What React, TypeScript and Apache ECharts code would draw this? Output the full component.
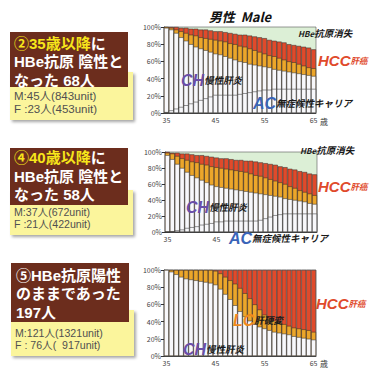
import React, { useEffect, useRef } from "react";
import * as echarts from "echarts";

// ages on the x axis (years)
const ages = [
  "35", "36", "37", "38", "39", "40", "41", "42", "43", "44",
  "45", "46", "47", "48", "49", "50", "51", "52", "53", "54",
  "55", "56", "57", "58", "59", "60", "61", "62", "63", "64", "65",
];
const shownAges = ["35", "45", "55", "65"];
const shownAgesChart2 = ["35", "45"]; // others hidden under the AC label in the reference

// Chart 1 (②): cumulative tops of each layer, %
const ac1 = [1, 3, 5, 7, 9, 11, 13, 15, 17, 19, 21, 21, 21, 21, 21, 22, 23, 24, 25, 26, 27, 27, 28, 28, 28, 28, 28, 28, 28, 28, 28];
const ch1 = [99, 97, 93, 88, 84, 80, 77, 75, 73, 71, 69, 68, 66, 64, 62, 60, 59, 57, 56, 55, 54, 53, 51, 50, 49, 48, 47, 46, 45, 44, 43];
const lc1 = [100, 99, 97, 95, 93, 91, 90, 88, 87, 86, 85, 84, 83, 81, 80, 78, 77, 75, 73, 71, 69, 67, 66, 64, 62, 60, 59, 57, 55, 53, 52];
const hcc1 = [100, 100, 100, 99, 99, 98, 98, 97, 97, 96, 95, 95, 94, 93, 92, 91, 91, 90, 89, 88, 87, 85, 84, 83, 82, 80, 79, 78, 77, 76, 74];

// Chart 2 (④)
const ac2 = [0, 1, 2, 3, 5, 6, 7, 9, 10, 11, 13, 13, 14, 14, 14, 14, 14, 14, 14, 15, 17, 19, 21, 22, 23, 23, 23, 23, 23, 23, 23];
const ch2 = [96, 91, 85, 80, 75, 71, 68, 65, 62, 59, 57, 56, 55, 54, 53, 52, 51, 50, 49, 48, 47, 46, 45, 44, 42, 41, 40, 39, 38, 36, 35];
const lc2 = [99, 98, 95, 92, 90, 88, 87, 85, 84, 82, 81, 80, 79, 78, 77, 76, 75, 73, 71, 70, 68, 66, 64, 62, 60, 57, 55, 52, 50, 48, 46];
const hcc2 = [100, 99, 99, 98, 98, 97, 96, 96, 95, 94, 93, 92, 92, 91, 90, 90, 89, 89, 88, 87, 86, 85, 84, 82, 81, 79, 78, 76, 75, 73, 72];

// Chart 3 (⑤)
const ch3 = [100, 98, 95, 92, 90, 89, 88, 87, 86, 85, 83, 78, 72, 66, 59, 52, 46, 41, 37, 34, 32, 30, 28, 27, 26, 25, 23, 22, 21, 20, 19];
const lc3 = [100, 100, 100, 100, 100, 100, 100, 100, 100, 100, 99, 96, 92, 88, 84, 79, 73, 67, 60, 54, 48, 44, 41, 39, 37, 35, 33, 32, 31, 30, 28];
const hcc3 = [100, 100, 100, 100, 100, 100, 100, 100, 100, 100, 100, 100, 100, 100, 100, 100, 100, 100, 100, 100, 100, 100, 100, 100, 100, 100, 100, 100, 100, 100, 100];

const FONT = "'Noto Sans CJK JP', 'Noto Sans', sans-serif";
const TIGHT = "'Liberation Sans', 'Noto Sans CJK JP', sans-serif";
const RED = "#e04a2b";
const ORANGE = "#eca62a";
const WHITE = "#f8f8fb";
const GREEN = "#dcefd6";
const BROWN = "#6c2d1d";
const YELLOW = "#fbf59c";

function App() {
  const ref = useRef<HTMLDivElement>(null);
  useEffect(() => {
    if (!ref.current) return;
    const chart = echarts.init(ref.current, undefined, { renderer: "svg" });

    const grids = [
      { left: 164, top: 27, width: 152, height: 86, bg: GREEN, shown: shownAges },
      { left: 165, top: 152, width: 152, height: 80, bg: GREEN, shown: shownAgesChart2 },
      { left: 164, top: 270, width: 152, height: 86, bg: "#ffffff", shown: shownAges },
    ];

    const bar = (g: number, data: number[], color: string) => ({
      type: "bar",
      xAxisIndex: g,
      yAxisIndex: g,
      data,
      barGap: "-100%",
      barCategoryGap: "0%",
      silent: true,
      itemStyle: { color, borderColor: "#2a2a2a", borderWidth: 0.5 },
    });

    const txt = (x: number, y: number, text: string, rich: any, extra: any = {}) => ({
      type: "text",
      x,
      y,
      z: 100,
      style: {
        text,
        rich,
        fontFamily: FONT,
        verticalAlign: "middle",
        textVerticalAlign: "middle",
        ...extra,
      },
    });

    const big = (fill: string, fs = 16) => ({ fontSize: fs, lineHeight: fs + 1, fontWeight: "bold", fontStyle: "italic", fill, fontFamily: "Liberation Sans, Arial, sans-serif" });
    const small = { fontSize: 9.5, lineHeight: 11, fontWeight: "bold", fontStyle: "italic", fill: "#1a1a1a", fontFamily: FONT };

    const box = (x: number, yb: number, hb: number, yy: number, hy: number) => [
      {
        type: "rect",
        shape: { x: x, y: yy, width: 123, height: hy },
        style: { fill: YELLOW, shadowColor: "rgba(0,0,0,0.35)", shadowBlur: 3, shadowOffsetX: 2, shadowOffsetY: 2 },
        z: 10,
      },
      {
        type: "rect",
        shape: { x: x, y: yb, width: 118, height: hb },
        style: { fill: BROWN },
        z: 11,
      },
    ];

    const brownRich = {
      y: { fontSize: 15, lineHeight: 18.5, fontWeight: "bold", fill: "#f7e61a", fontFamily: TIGHT },
      w: { fontSize: 15, lineHeight: 18.5, fontWeight: "bold", fill: "#ffffff", fontFamily: TIGHT },
    };
    const yelRich = (fs: number, lh: number) => ({ n: { fontSize: fs, lineHeight: lh, fill: "#505050", fontFamily: TIGHT } });
    const kRich = { k: { fontSize: 8, lineHeight: 9, fill: "#333", fontFamily: FONT } };

    const graphic: any[] = [
      // title
      txt(240, 16, "{a|男性  Male}", { a: { fontSize: 13, lineHeight: 14, fontWeight: "bold", fontStyle: "italic", fill: "#111", fontFamily: FONT } }, { align: "center", textAlign: "center" }),
      // box 1
      ...box(10, 32, 55, 72, 48),
      txt(14, 61.5, "{y|②35歳以降}{w|に}\n{w|HBe抗原 陰性と}\n{w|なった 68人}", brownRich),
      txt(14, 102.5, "{n|M:45人(843unit)}\n{n|F :23人(453unit)}", yelRich(11.5, 13)),
      // box 2
      ...box(10, 148, 57, 190, 45),
      txt(14, 176, "{y|④40歳以降}{w|に}\n{w|HBe抗原 陰性と}\n{w|なった 58人}", brownRich),
      txt(14, 218, "{n|M:37人(672unit)}\n{n|F :21人(422unit)}", yelRich(10.6, 12)),
      // box 3
      ...box(11, 263, 59, 310, 46),
      txt(16, 293.5, "{w|⑤HBe抗原陽性}\n{w|のままであった}\n{w|197人}", brownRich),
      txt(15, 339, "{n|M:121人(1321unit)}\n{n|F : 76人(  917unit)}", yelRich(10.6, 12)),

      // chart 1 labels
      txt(298, 33, "{h|HBe}{t|抗原消失}", { h: { ...small, fontSize: 8 }, t: small }),
      txt(318, 60, "{a|HCC}{b|肝癌}", { a: big(RED, 15), b: { ...small, fontSize: 8.5, fill: RED } }),
      txt(181, 80, "{a|CH}{b|慢性肝炎}", { a: big("#6a4ea8"), b: small }),
      txt(253, 103, "{a|AC}{b|無症候性キャリア}", { a: big("#3a64b8"), b: small }),
      txt(320, 121, "{k|歳}", kRich),

      // chart 2 labels
      txt(300, 150, "{h|HBe}{t|抗原消失}", { h: { ...small, fontSize: 8 }, t: small }),
      txt(318, 186, "{a|HCC}{b|肝癌}", { a: big(RED, 15), b: { ...small, fontSize: 8.5, fill: RED } }),
      txt(186, 207, "{a|CH}{b|慢性肝炎}", { a: big("#6a4ea8"), b: small }),
      txt(229, 238, "{a|AC}{b|無症候性キャリア}", { a: big("#3a64b8"), b: small }),

      // chart 3 labels
      txt(316, 303, "{a|HCC}{b|肝癌}", { a: big(RED, 15), b: { ...small, fontSize: 8.5, fill: RED } }),
      txt(233, 320, "{a|LC}{b|肝硬変}", { a: big("#f08a1c"), b: small }),
      txt(183, 349, "{a|CH}{b|慢性肝炎}", { a: big("#6a4ea8"), b: small }),
      txt(320, 363, "{k|歳}", kRich),
    ];

    const option: any = {
      animation: false,
      backgroundColor: "#ffffff",
      textStyle: { fontFamily: FONT },
      grid: grids.map((g) => ({
        left: g.left,
        top: g.top,
        width: g.width,
        height: g.height,
        show: true,
        backgroundColor: g.bg,
        borderColor: "#555",
        borderWidth: 0.6,
      })),
      xAxis: grids.map((g, i) => {
        const show = (idx: number) => g.shown.indexOf(ages[idx]) >= 0;
        return {
          type: "category",
          gridIndex: i,
          data: ages,
          boundaryGap: true,
          axisLine: { lineStyle: { color: "#333", width: 0.8 } },
          axisTick: { interval: (idx: number) => shownAges.indexOf(ages[idx]) >= 0, alignWithLabel: true, length: 3, lineStyle: { color: "#333" } },
          axisLabel: { interval: show, fontSize: 7, color: "#444", margin: 3 },
          splitLine: { show: false },
        };
      }),
      yAxis: grids.map((_, i) => ({
        type: "value",
        gridIndex: i,
        min: 0,
        max: 100,
        interval: 20,
        axisLine: { show: true, lineStyle: { color: "#333", width: 0.8 } },
        axisTick: { show: true, length: 3, lineStyle: { color: "#333" } },
        axisLabel: { formatter: "{value}%", fontSize: 7, color: "#444", margin: 3 },
        splitLine: { show: false },
      })),
      series: [
        bar(0, hcc1, RED), bar(0, lc1, ORANGE), bar(0, ch1, WHITE), bar(0, ac1, WHITE),
        bar(1, hcc2, RED), bar(1, lc2, ORANGE), bar(1, ch2, WHITE), bar(1, ac2, WHITE),
        bar(2, hcc3, RED), bar(2, lc3, ORANGE), bar(2, ch3, WHITE),
      ],
      graphic,
    };
    chart.setOption(option);
    return () => chart.dispose();
  }, []);

  return (
    <div
      ref={ref}
      style={{ position: "absolute", left: 0, top: 0, width: 370, height: 369, background: "#fff" }}
    />
  );
}

export default App;
